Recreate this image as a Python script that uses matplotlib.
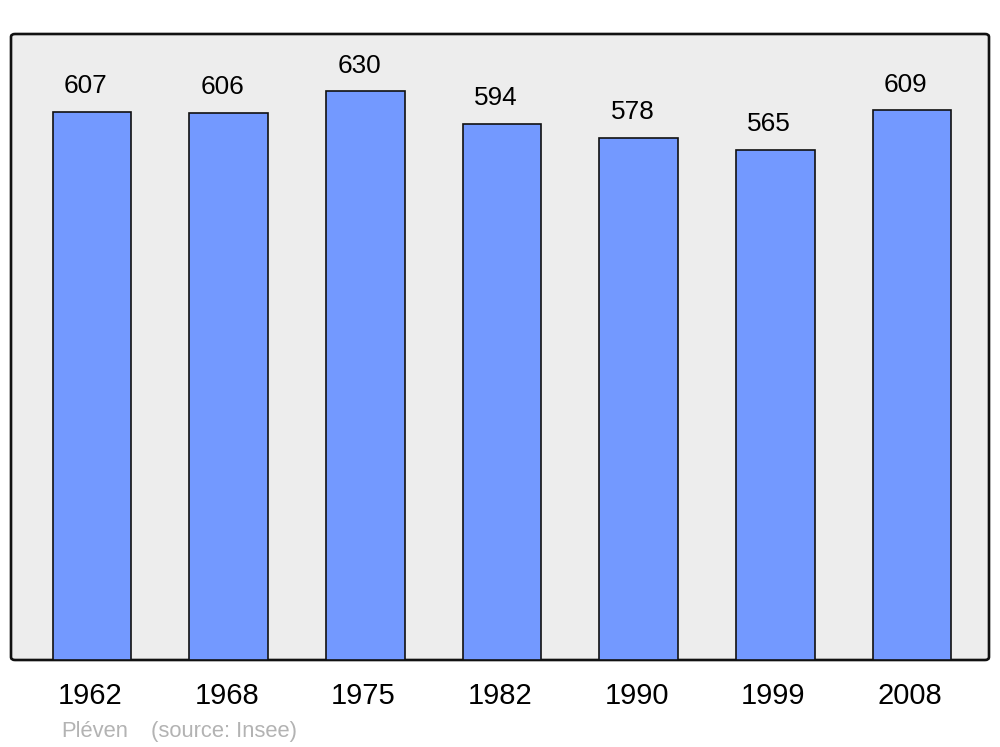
import matplotlib
matplotlib.use("Agg")
import matplotlib.pyplot as plt
import matplotlib.transforms as mtransforms
from matplotlib.patches import FancyBboxPatch

years = ["1962", "1968", "1975", "1982", "1990", "1999", "2008"]
population = [607, 606, 630, 594, 578, 565, 609]
commune = "Pléven"
source = "(source: Insee)"

plt.rcParams['font.family'] = ['Liberation Sans', 'DejaVu Sans']

fig = plt.figure(figsize=(10, 7.47), dpi=100)
left, bottom, width, height = 0.011, 1 - 660/747, 0.978, (660 - 34)/747
ax = fig.add_axes([left, bottom, width, height])
ax.set_facecolor('none')
ax.set_zorder(2)

frame = FancyBboxPatch((left, bottom), width, height,
                       boxstyle="round,pad=0,rounding_size=0.004",
                       transform=fig.transFigure, facecolor='#ededed',
                       edgecolor='#111111', linewidth=1.9, zorder=0)
fig.patches.append(frame)

x = list(range(len(years)))
bars = ax.bar(x, population, width=0.575, color='#7399ff', edgecolor='#111111',
              linewidth=1.2, zorder=2)
for xi, v in zip(x, population):
    ax.annotate(str(v), (xi, v), xytext=(-4.5, 18.5), textcoords='offset points',
                ha='center', va='center', fontsize=18.8, color='black')

ax.set_xlim(-0.593, 6.563)
ax.set_ylim(0, 693.4)
ax.set_xticks(x)
ax.set_xticklabels(years, fontsize=21)
ax.tick_params(axis='x', length=0, pad=16)
shift = mtransforms.ScaledTranslation(-1.5/72, 0, fig.dpi_scale_trans)
for lab in ax.get_xticklabels():
    lab.set_transform(lab.get_transform() + shift)
ax.set_yticks([])
for s in ax.spines.values():
    s.set_visible(False)

fig.text(0.061, 1 - 731.5/747, commune, fontsize=15.8, color='#b3b3b3', va='center', ha='left')
fig.text(0.151, 1 - 731.5/747, source, fontsize=15.8, color='#b3b3b3', va='center', ha='left')

fig.savefig("out.png", dpi=100)
